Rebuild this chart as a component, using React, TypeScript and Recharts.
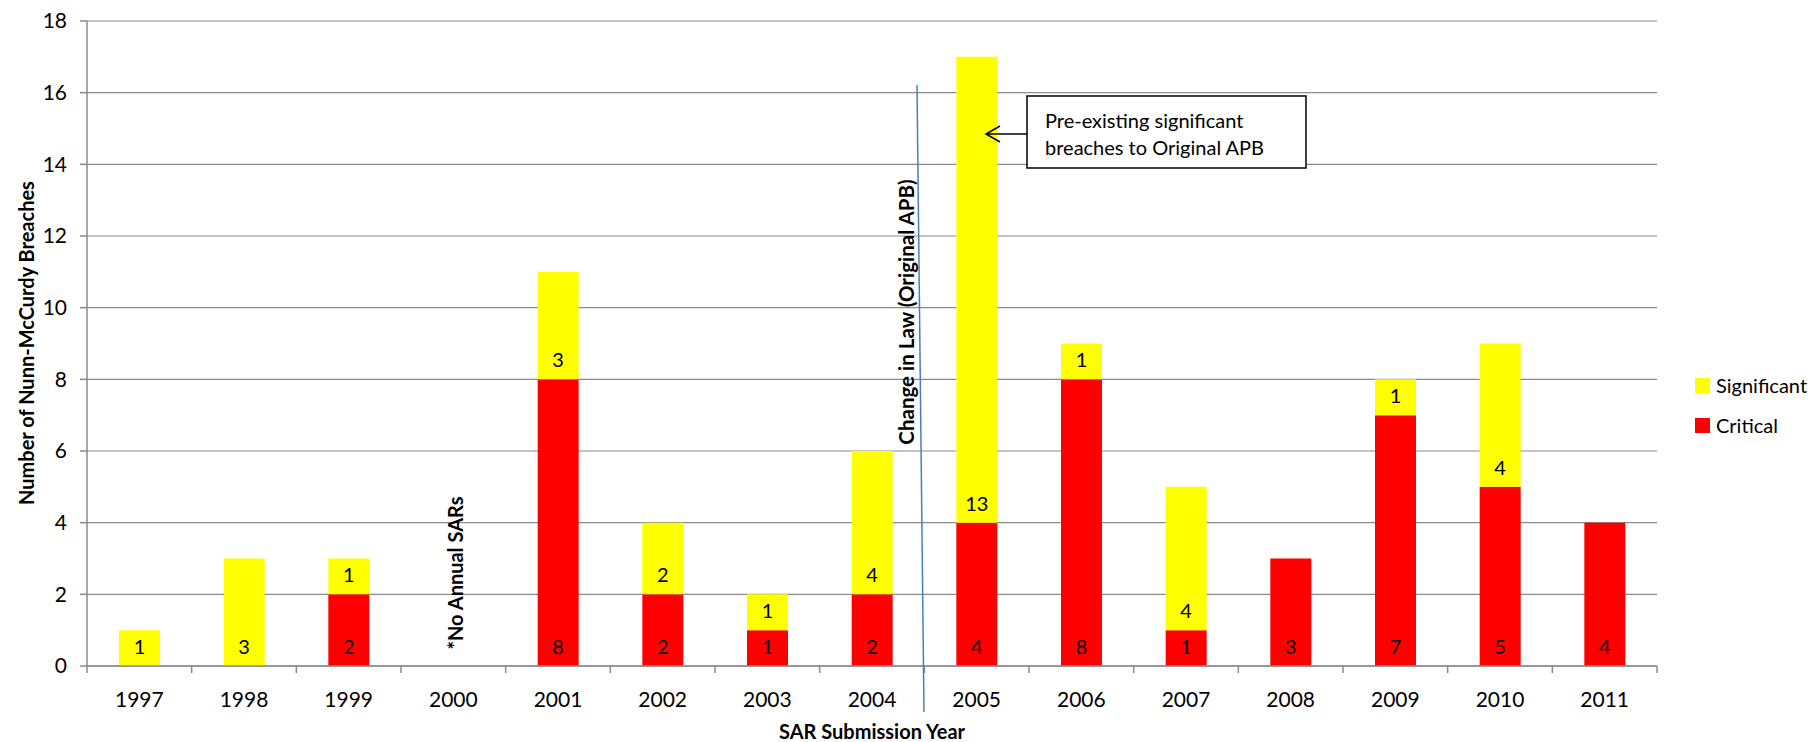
import React from 'react';
import { BarChart, Bar, XAxis, YAxis, CartesianGrid, Legend, LabelList } from 'recharts';

const years = ['1997', '1998', '1999', '2000', '2001', '2002', '2003', '2004', '2005', '2006', '2007', '2008', '2009', '2010', '2011'];
const critical = [0, 0, 2, 0, 8, 2, 1, 2, 4, 8, 1, 3, 7, 5, 4];
const significant = [1, 3, 1, 0, 3, 2, 1, 4, 13, 1, 4, 0, 1, 4, 0];
const yTicks = [0, 2, 4, 6, 8, 10, 12, 14, 16, 18];

const data = years.map((year, i) => ({ year, Critical: critical[i], Significant: significant[i] }));

const W = 1816;
const H = 742;
const MARGIN = { top: 21, right: 159, bottom: 36, left: 27 };
const Y_AXIS_W = 60;
const BAND = (W - MARGIN.left - Y_AXIS_W - MARGIN.right) / years.length;

const FONT = 'Lato, "Open Sans", sans-serif';
const AXIS_GRAY = '#8a8a8a';

const segLabel = (props: any) => {
  const { x, y, width, height, value } = props;
  if (!value) return null;
  return (
    <text
      x={Number(x) + Number(width) / 2}
      y={Number(y) + Number(height) - 20}
      textAnchor="middle"
      dominantBaseline="central"
      fontSize={20}
      fontFamily={FONT}
      fill="#000"
    >
      {value}
    </text>
  );
};

const XTick = (props: any) => {
  const { x, y, payload, index } = props;
  const last = index === years.length - 1;
  return (
    <g>
      <line x1={x - BAND / 2} x2={x - BAND / 2} y1={y} y2={y + 7} stroke={AXIS_GRAY} strokeWidth={1.5} />
      {last && <line x1={x + BAND / 2} x2={x + BAND / 2} y1={y} y2={y + 7} stroke={AXIS_GRAY} strokeWidth={1.5} />}
      <text x={x} y={y + 32} textAnchor="middle" dominantBaseline="central" fontSize={21} fontFamily={FONT} fill="#000">
        {payload.value}
      </text>
    </g>
  );
};

const legendContent = () => {
  const items = [
    { name: 'Significant', color: '#ffff00' },
    { name: 'Critical', color: '#ff0000' },
  ];
  return (
    <div style={{ fontFamily: FONT, fontSize: 20 }}>
      {items.map((it) => (
        <div key={it.name} style={{ display: 'flex', alignItems: 'center', height: 40 }}>
          <span style={{ width: 15, height: 15, background: it.color, marginRight: 6, display: 'inline-block' }} />
          <span>{it.name}</span>
        </div>
      ))}
    </div>
  );
};

export default function App() {
  return (
    <div style={{ position: 'absolute', left: 0, top: 0, width: W, height: H, background: '#fff' }}>
      <BarChart width={W} height={H} data={data} margin={MARGIN}>
        <CartesianGrid vertical={false} stroke={AXIS_GRAY} strokeWidth={1.2} />
        <XAxis
          dataKey="year"
          height={40}
          tickLine={false}
          tickSize={0}
          tickMargin={0}
          tick={<XTick />}
          interval={0}
          axisLine={{ stroke: AXIS_GRAY, strokeWidth: 1.5 }}
        />
        <YAxis
          width={Y_AXIS_W}
          domain={[0, 18]}
          ticks={yTicks}
          interval={0}
          tickSize={7}
          tickMargin={13}
          tick={{ fontSize: 21, fontFamily: FONT, fill: '#000' }}
          tickLine={{ stroke: AXIS_GRAY, strokeWidth: 1.5 }}
          axisLine={{ stroke: AXIS_GRAY, strokeWidth: 1.5 }}
        />
        <Legend
          layout="horizontal"
          verticalAlign="middle"
          content={legendContent}
          wrapperStyle={{ left: 1695, top: 365, width: 121, height: 80 }}
        />
        <Bar dataKey="Critical" stackId="a" fill="#ff0000" barSize={41} isAnimationActive={false}>
          <LabelList dataKey="Critical" content={segLabel} />
        </Bar>
        <Bar dataKey="Significant" stackId="a" fill="#ffff00" barSize={41} isAnimationActive={false}>
          <LabelList dataKey="Significant" content={segLabel} />
        </Bar>
      </BarChart>
      <svg width={W} height={H} style={{ position: 'absolute', left: 0, top: 0, pointerEvents: 'none' }}>
        <text
          transform="translate(26,343) rotate(-90)"
          textAnchor="middle"
          dominantBaseline="central"
          fontSize={20}
          fontWeight="bold"
          fontFamily={FONT}
        >
          Number of Nunn-McCurdy Breaches
        </text>
        <text x={872} y={731} textAnchor="middle" dominantBaseline="central" fontSize={20} fontWeight="bold" fontFamily={FONT}>
          SAR Submission  Year
        </text>
        <line x1={917} y1={85} x2={924} y2={712} stroke="#4a7ebb" strokeWidth={1.5} />
        <text
          transform="translate(906,312) rotate(-90)"
          textAnchor="middle"
          dominantBaseline="central"
          fontSize={20.5}
          fontWeight="bold"
          fontFamily={FONT}
        >
          Change in Law (Original APB)
        </text>
        <text
          transform="translate(455,573) rotate(-90)"
          textAnchor="middle"
          dominantBaseline="central"
          fontSize={20}
          fontWeight="bold"
          fontFamily={FONT}
        >
          *No Annual SARs
        </text>
        <rect x={1027} y={96} width={279} height={72} fill="#fff" stroke="#000" strokeWidth={1.5} />
        <text x={1045} y={120} dominantBaseline="central" fontSize={20} fontFamily={FONT}>
          Pre-existing significant
        </text>
        <text x={1045} y={147} dominantBaseline="central" fontSize={20} fontFamily={FONT}>
          breaches to Original APB
        </text>
        <line x1={1027} y1={134} x2={986} y2={134} stroke="#000" strokeWidth={1.5} />
        <polyline points="1000,126 986,134 1000,142" fill="none" stroke="#000" strokeWidth={1.5} />
      </svg>
    </div>
  );
}
